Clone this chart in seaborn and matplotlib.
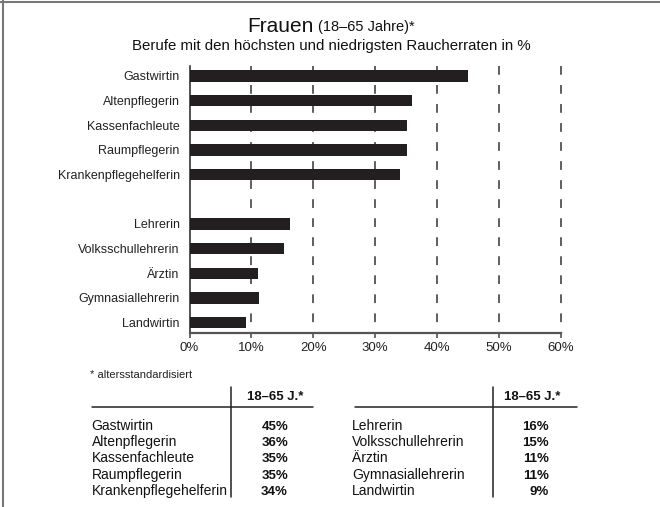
import matplotlib
matplotlib.use("Agg")
import matplotlib.pyplot as plt
import pandas as pd
import seaborn as sns
from matplotlib.lines import Line2D

# data
berufe_hoch = ["Gastwirtin", "Altenpflegerin", "Kassenfachleute", "Raumpflegerin", "Krankenpflegehelferin"]
berufe_niedrig = ["Lehrerin", "Volksschullehrerin", "Ärztin", "Gymnasiallehrerin", "Landwirtin"]
raten_hoch = [45, 36, 35.1, 35.1, 34.1]
raten_niedrig = [16.2, 15.3, 11.0, 11.3, 9.2]
tabelle_hoch = [45, 36, 35, 35, 34]
tabelle_niedrig = [16, 15, 11, 11, 9]
x_ticks = [0, 10, 20, 30, 40, 50, 60]

sns.set_theme(style="white")
plt.rcParams["font.family"] = ["Liberation Sans", "DejaVu Sans"]
plt.rcParams["lines.scale_dashes"] = False

W, H = 660, 507


def fx(px):
    return px / W


def fy(py):
    return 1 - py / H


df = pd.DataFrame({
    "beruf": berufe_hoch + berufe_niedrig,
    "rate": raten_hoch + raten_niedrig,
})
order = berufe_hoch + [" "] + berufe_niedrig

fig = plt.figure(figsize=(W / 100, H / 100), dpi=100)
ax = fig.add_axes([fx(189.5), fy(333), (560.7 - 189.5) / W, (333 - 66) / H])

sns.barplot(data=df, y="beruf", x="rate", order=order, color="#231f20",
            saturation=1, width=0.45, orient="h", ax=ax, zorder=3)
for p in ax.patches:
    p.set_edgecolor("none")

ax.set_xlim(0, 60)
ax.set_ylim(10.42, -0.405)
ax.vlines(x_ticks[1:], -0.405, 10.42, colors="#333333", linewidth=1.1,
          linestyles=[(0, (6.3, 7.4))], zorder=1, clip_on=False)

ax.set_xticks(x_ticks)
ax.set_xticklabels([f"{t}%" for t in x_ticks], fontsize=9.5, color="#222222")
ax.tick_params(axis="x", bottom=True, length=3.6, width=1.1, color="#444444", pad=3)
ax.tick_params(axis="y", left=False, length=0, pad=7, labelsize=9, labelcolor="#222222")
ax.set_xlabel("")
ax.set_ylabel("")
ax.grid(False)
for side in ["top", "right"]:
    ax.spines[side].set_visible(False)
ax.spines["left"].set_color("#222222")
ax.spines["left"].set_linewidth(1.1)
ax.spines["bottom"].set_color("#555555")
ax.spines["bottom"].set_linewidth(1.6)

# frame (top and left only)
fig.add_artist(Line2D([fx(0), fx(W)], [fy(2), fy(2)], color="#777777", lw=1.5))
fig.add_artist(Line2D([fx(2.5), fx(2.5)], [fy(0), fy(H)], color="#777777", lw=1.5))

# title
fig.text(fx(247), fy(31.5), "Frauen", fontsize=15, color="#111111", va="baseline", ha="left")
fig.text(fx(318), fy(31.5), "(18–65 Jahre)*", fontsize=10.5, color="#111111", va="baseline", ha="left")
fig.text(fx(331), fy(46), "Berufe mit den höchsten und niedrigsten Raucherraten in %",
         fontsize=10.8, color="#111111", ha="center", va="center")

fig.text(fx(90), fy(375), "* altersstandardisiert", fontsize=8, color="#222222", va="center")

# tables (baselines on whole pixels so the rows stay evenly spaced)
row_base = [430, 446, 462, 479, 495]
for names, vals, x_name, x_sep, x_val, x_head, line_x in [
    (berufe_hoch, tabelle_hoch, 91.5, 230.5, 288, 275.5, (92, 313)),
    (berufe_niedrig, tabelle_niedrig, 352, 493, 549, 532, (355, 577)),
]:
    fig.add_artist(Line2D([fx(x_sep), fx(x_sep)], [fy(387), fy(497)], color="#222222", lw=1.1))
    fig.add_artist(Line2D([fx(line_x[0]), fx(line_x[1])], [fy(406.5), fy(406.5)], color="#222222", lw=1.1))
    fig.text(fx(x_head), fy(400), "18–65 J.*", fontsize=9.5, fontweight="bold",
             color="#111111", ha="center", va="baseline")
    for name, val, y in zip(names, vals, row_base):
        fig.text(fx(x_name), fy(y), name, fontsize=10, color="#111111", ha="left", va="baseline")
        fig.text(fx(x_val), fy(y), f"{val}%", fontsize=9.5, fontweight="bold",
                 color="#111111", ha="right", va="baseline")

fig.savefig("out.png", dpi=100)
plt.close(fig)
